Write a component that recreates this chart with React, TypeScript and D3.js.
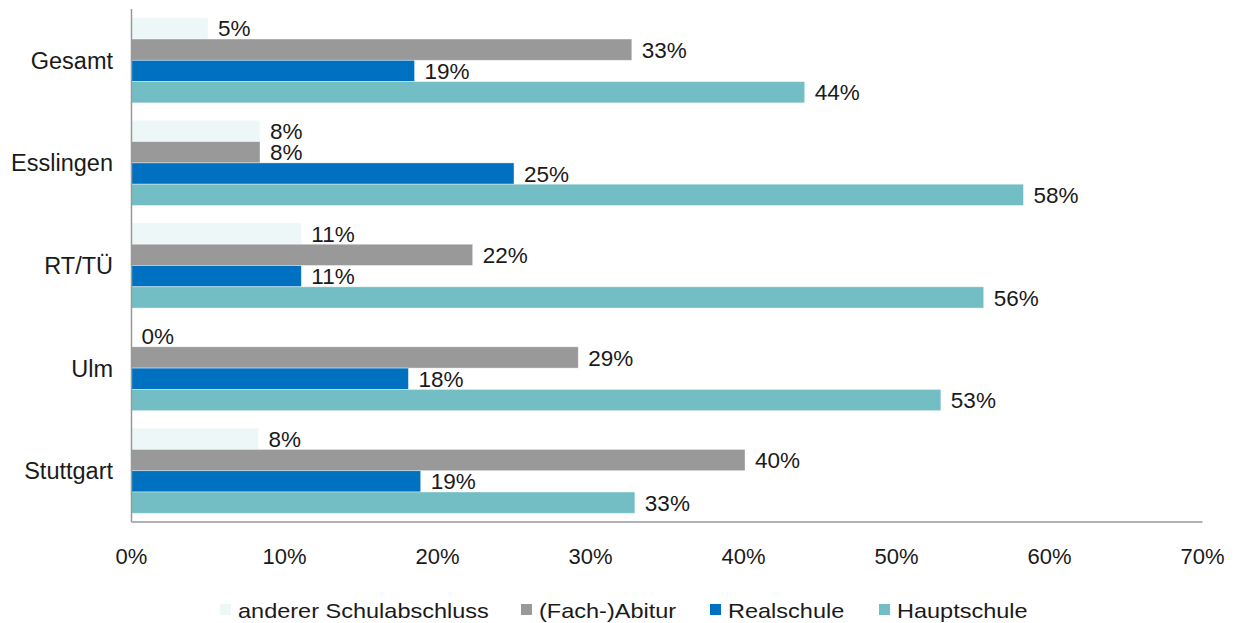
import React from 'react';
import * as d3 from 'd3';

const categories = ['Gesamt', 'Esslingen', 'RT/TÜ', 'Ulm', 'Stuttgart'];
const seriesNames = ['anderer Schulabschluss', '(Fach-)Abitur', 'Realschule', 'Hauptschule'];
const seriesColors = ['#EEF7F7', '#999999', '#0070C0', '#72BEC4'];

// values in percent
const anderer = [5.0, 8.4, 11.1, 0, 8.3];
const abitur = [32.7, 8.4, 22.3, 29.2, 40.1];
const realschule = [18.5, 25.0, 11.1, 18.1, 18.9];
const hauptschule = [44.0, 58.3, 55.7, 52.9, 32.9];

const xTicks = [0, 10, 20, 30, 40, 50, 60, 70];

const W = 1239;
const H = 623;
const left = 131.5;
const right = 1202.5;
const top = 9;
const bottom = 522;
const font = 'Liberation Sans, Arial, sans-serif';

export default function App() {
  const series = [anderer, abitur, realschule, hauptschule];

  const x = d3.scaleLinear().domain([0, 70]).range([left, right]);
  const y = d3
    .scaleBand<string>()
    .domain(categories)
    .range([top, bottom])
    .paddingInner(0.17)
    .paddingOuter(0.085);
  const inner = d3
    .scaleBand<number>()
    .domain(d3.range(series.length))
    .range([0, y.bandwidth()]);

  const legendX = [220, 521, 710, 879];

  return (
    <svg
      width={W}
      height={H}
      style={{ position: 'absolute', left: 0, top: 0, background: '#fff' }}
      fontFamily={font}
    >
      {categories.map((cat, ci) => (
        <g key={cat}>
          {series.map((vals, si) => {
            const by = (y(cat) as number) + (inner(si) as number);
            const v = vals[ci];
            return (
              <g key={si}>
                {v > 0 && (
                  <rect
                    x={x(0)}
                    y={by}
                    width={x(v) - x(0)}
                    height={inner.bandwidth()}
                    fill={seriesColors[si]}
                    stroke="#ffffff"
                    strokeOpacity={0.5}
                    strokeWidth={0.8}
                  />
                )}
                <text
                  x={x(v) + 10}
                  y={by + inner.bandwidth() / 2}
                  dy="0.36em"
                  fontSize={22.5}
                  fill="#1a1a1a"
                >
                  {Math.round(v)}%
                </text>
              </g>
            );
          })}
          <text
            x={113}
            y={(y(cat) as number) + y.bandwidth() / 2}
            dy="0.36em"
            textAnchor="end"
            fontSize={23.5}
            fill="#1a1a1a"
          >
            {cat}
          </text>
        </g>
      ))}

      <line x1={left} x2={left} y1={top} y2={bottom} stroke="#999" strokeWidth={1.5} />
      <line x1={left} x2={right} y1={bottom} y2={bottom} stroke="#999" strokeWidth={1.5} />

      {xTicks.map((t) => (
        <text
          key={t}
          x={x(t)}
          y={556}
          dy="0.36em"
          textAnchor="middle"
          fontSize={22}
          fill="#1a1a1a"
        >
          {t}%
        </text>
      ))}

      {seriesNames.map((name, si) => (
        <g key={name}>
          <rect x={legendX[si]} y={604} width={11} height={11} fill={seriesColors[si]} />
          <g transform={`translate(${legendX[si] + 18},610) scale(1.12,1)`}>
            <text x={0} y={0} dy="0.36em" fontSize={21} fill="#1a1a1a">
              {name}
            </text>
          </g>
        </g>
      ))}
    </svg>
  );
}
